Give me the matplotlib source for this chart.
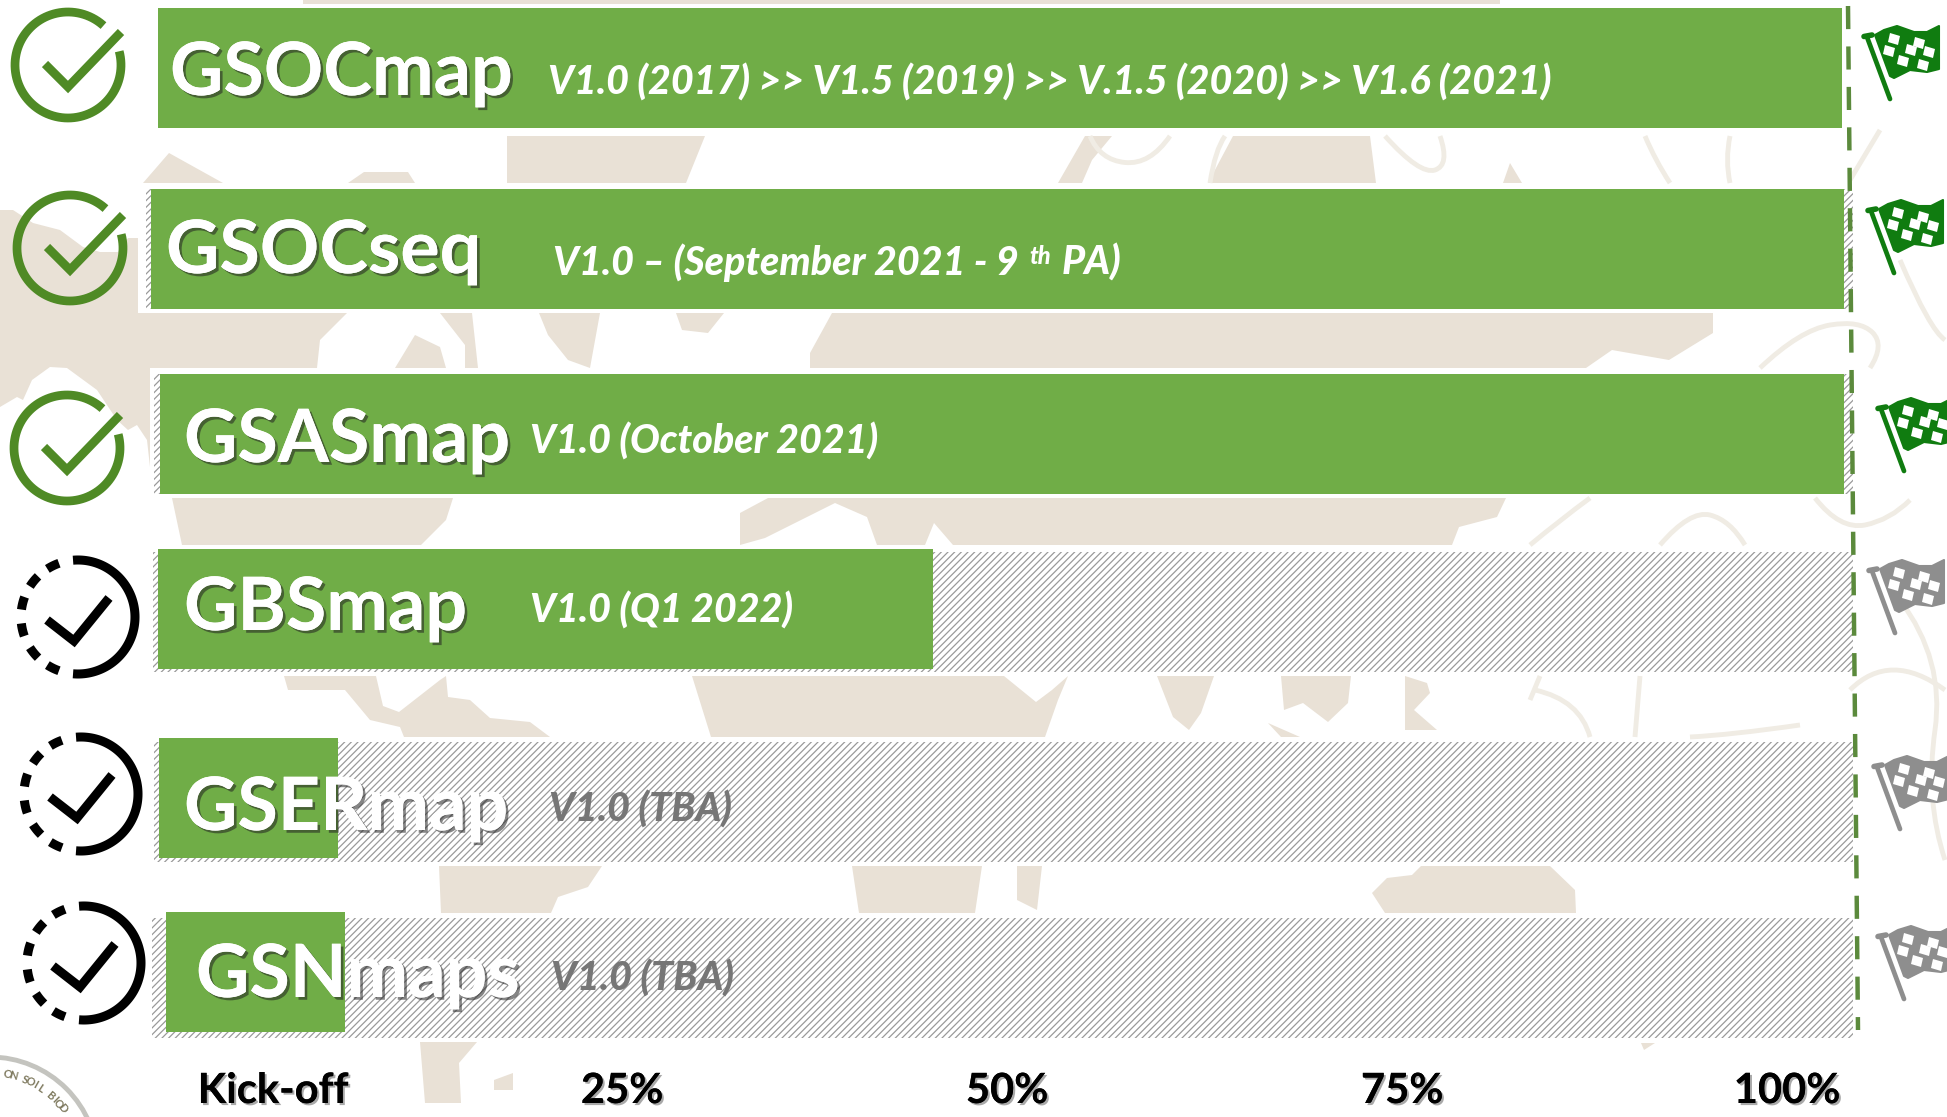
#!/usr/bin/env python3

import numpy as np
import matplotlib
matplotlib.use('Agg')
import matplotlib.pyplot as plt
import matplotlib.patheffects as pe
from matplotlib.patches import Polygon, Rectangle, Circle, PathPatch
from matplotlib.path import Path

# chart values
names = ['GSOCmap', 'GSOCseq', 'GSASmap', 'GBSmap', 'GSERmap', 'GSNmaps']
versions = ['V1.0 (2017) >> V1.5 (2019) >> V.1.5 (2020) >> V1.6 (2021)',
            'V1.0 – (September 2021 - 9',
            'V1.0 (October 2021)',
            'V1.0 (Q1 2022)',
            'V1.0 (TBA)',
            'V1.0 (TBA)']
progress = [100, 100, 100, 46, 10.6, 10.6]
tick_labels = ['Kick-off', '25%', '50%', '75%', '100%']

# layout, in pixels of the 1947x1117 picture
W, H = 1947, 1117
bar_left = [158, 151, 160, 158, 159, 166]
bar_span = [1684, 1693, 1684, 1684, 1684, 1684]
bar_top = [8, 189, 374, 549, 738, 912]
track_left = [None, 146, 154, 153, 154, 152]
track_top = [None, 189, 374, 552, 742, 918]
name_x = [170, 166, 184, 184, 184, 196]
name_y = [95, 273, 462, 630, 830, 997]
ver_x = [548, 553, 530, 530, 549, 551]
ver_y = [95, 275, 454, 623, 822, 991]
tick_x = [273, 622, 1007, 1402, 1787]
icon_xy = [(68, 65), (70, 248), (67, 448), (78, 617), (81, 794), (84, 963)]
flag_xy = [(1867, 37), (1871, 211), (1881, 409), (1872, 571), (1877, 767), (1881, 937)]

GREEN = '#70ad47'
BEIGE = '#e9e1d6'
LINE = '#f0ece4'

# world map pieces showing between the bars
blobs = [
    [(303, 0), (1500, 0), (1500, 4), (303, 4)],
    [(143, 183), (169, 153), (223, 183)],
    [(348, 183), (364, 172), (408, 172), (415, 183)],
    [(507, 136), (705, 136), (686, 183), (507, 183)],
    [(1058, 183), (1085, 136), (1112, 136), (1092, 160), (1082, 183)],
    [(1208, 183), (1233, 136), (1370, 136), (1376, 183)],
    [(1503, 183), (1510, 163), (1522, 183)],
    [(0, 210), (13, 210), (33, 223), (60, 230), (83, 247), (100, 252), (118, 252), (128, 238), (138, 238),
     (138, 313), (347, 313), (320, 340), (317, 368), (150, 368), (150, 467), (147, 440), (137, 425),
     (128, 430), (117, 420), (97, 390), (67, 368), (50, 367), (32, 380), (23, 400), (17, 397), (0, 407)],
    [(395, 368), (415, 335), (440, 347), (446, 368)],
    [(440, 313), (472, 313), (478, 368), (465, 368), (465, 345)],
    [(539, 313), (600, 313), (590, 368), (568, 360), (548, 335)],
    [(676, 313), (724, 313), (708, 333), (682, 330)],
    [(832, 313), (1713, 313), (1713, 333), (1669, 360), (1612, 350), (1586, 368), (810, 368), (810, 353)],
    [(172, 498), (453, 498), (446, 520), (421, 545), (182, 545)],
    [(768, 498), (740, 513), (740, 545), (765, 538), (835, 503), (867, 517), (877, 545), (925, 545),
     (934, 523), (953, 545), (1452, 545), (1459, 527), (1497, 517), (1506, 498)],
    [(284, 676), (376, 676), (383, 706), (399, 712), (440, 680), (446, 676), (448, 697), (470, 700),
     (490, 718), (530, 722), (550, 737), (404, 737), (400, 727), (370, 720), (345, 690), (288, 690)],
    [(692, 676), (1004, 676), (1036, 702), (1052, 690), (1068, 676), (1058, 700), (1045, 737), (711, 737)],
    [(1157, 676), (1214, 676), (1201, 713), (1189, 730), (1173, 717)],
    [(1281, 676), (1351, 676), (1348, 703), (1328, 722), (1303, 703), (1284, 710)],
    [(1268, 723), (1300, 737), (1281, 737)],
    [(1405, 676), (1427, 683), (1430, 693), (1414, 710), (1437, 730), (1405, 730)],
    [(439, 866), (602, 866), (588, 887), (558, 897), (551, 913), (441, 913)],
    [(852, 866), (982, 866), (975, 913), (859, 913)],
    [(1017, 866), (1042, 866), (1037, 910), (1017, 900)],
    [(1421, 866), (1550, 866), (1575, 890), (1576, 913), (1385, 913), (1372, 893), (1387, 878), (1412, 875)],
    [(420, 1042), (477, 1042), (459, 1063), (461, 1103), (425, 1103)],
    [(494, 1080), (513, 1073), (513, 1090), (494, 1090)],
    [(1641, 1043), (1655, 1043), (1644, 1050)],
]

# faint outlines of the drawing behind the map
swirls = [
    [(1090, 136), (1100, 160), (1150, 165), (1170, 136)],
    [(1210, 183), (1215, 150), (1225, 136)],
    [(1385, 136), (1420, 175), (1450, 165), (1440, 136)],
    [(1645, 136), (1655, 160), (1670, 183)],
    [(1730, 136), (1725, 160), (1730, 183)],
    [(1760, 368), (1800, 330), (1860, 320), (1885, 345), (1870, 368)],
    [(1530, 545), (1560, 520), (1590, 498)],
    [(1660, 545), (1690, 510), (1730, 520), (1745, 545)],
    [(1815, 498), (1840, 530), (1890, 520), (1910, 500)],
    [(1540, 676), (1530, 700)],
    [(1535, 690), (1580, 700), (1590, 737)],
    [(1640, 676), (1635, 737)],
    [(1690, 737), (1730, 735), (1800, 725)],
    [(1850, 690), (1890, 650), (1945, 690)],
    [(1900, 600), (1945, 660), (1925, 800), (1945, 860)],
    [(1880, 130), (1850, 180)],
    [(1900, 260), (1930, 330), (1945, 340)],
]

FLAG = [(8, -2), (17, -7), (30, -11), (47, -5), (60, -5), (72, -11), (72, 32), (60, 35), (43, 33), (27, 41), (23, 39)]
FLAG_CELLS = [(23, -4), (48, 0), (18, 8), (40, 7), (32, 18), (52, 22), (58, 9)]

fig = plt.figure(figsize=(W / 100, H / 100), dpi=100)
ax = fig.add_axes([0, 0, 1, 1])
ax.set_xlim(0, W)
ax.set_ylim(H, 0)
ax.axis('off')
plt.rcParams['hatch.linewidth'] = 0.9
plt.rcParams['font.family'] = ['Lato', 'DejaVu Sans']

for b in blobs:
    ax.add_patch(Polygon(b, closed=True, facecolor=BEIGE, edgecolor='none', zorder=1))
for s in swirls:
    if len(s) == 2:
        codes = [Path.MOVETO, Path.LINETO]
        verts = s
    else:
        # smooth through the midpoints
        verts = [s[0]]
        codes = [Path.MOVETO]
        for j in range(1, len(s) - 1):
            end = s[j + 1] if j == len(s) - 2 else ((s[j][0] + s[j + 1][0]) / 2, (s[j][1] + s[j + 1][1]) / 2)
            verts += [s[j], end]
            codes += [Path.CURVE3, Path.CURVE3]
    ax.add_patch(PathPatch(Path(verts, codes), facecolor='none', edgecolor=LINE, lw=3.5, zorder=1.5))

# grey hatched track, then the green progress on top
for i in range(len(names)):
    if track_left[i] is not None:
        ax.add_patch(Rectangle((track_left[i], track_top[i]), 1853 - track_left[i], 120, facecolor='white',
                               edgecolor='#9a9a9a', hatch='/' * 5, lw=0, zorder=2))
    ax.barh(bar_top[i] + 60, progress[i] / 100 * bar_span[i], height=120, left=bar_left[i],
            color=GREEN, zorder=3)

shadow = [pe.withSimplePatchShadow(offset=(2, -2), shadow_rgbFace='#222222', alpha=0.55), pe.Normal()]
for i in range(len(names)):
    ax.text(name_x[i], name_y[i], names[i], color='white', fontsize=53, fontweight='bold',
            va='baseline', ha='left', zorder=5, path_effects=shadow)
    col = 'white' if i < 4 else '#767676'
    ax.text(ver_x[i], ver_y[i], versions[i], color=col, fontsize=28.4, fontweight='black', fontstyle='italic',
            va='baseline', ha='left', zorder=5)

# the 9th superscript
ax.text(1029, 264, 'th', color='white', fontsize=17, fontweight='black', fontstyle='italic', va='baseline', zorder=5)
ax.text(1062, 275, 'PA)', color='white', fontsize=28.4, fontweight='black', fontstyle='italic', va='baseline', zorder=5)

for x, lab in zip(tick_x, tick_labels):
    ax.text(x, 1103, lab, color='black', fontsize=30, fontweight='bold', ha='center', va='baseline', zorder=5,
            path_effects=[pe.withSimplePatchShadow(offset=(1.5, -1.5), shadow_rgbFace='#555555', alpha=0.5), pe.Normal()])

# finish line
ax.plot([1848, 1858], [6, 1030], color='#5b8a3c', lw=3.2, dashes=(5.2, 3.9), zorder=4, dash_capstyle='butt')


def draw_icon(cx, cy, done):
    if done:
        col, lw, r = '#4f8a25', 6.3, 53
        t = np.radians(np.linspace(-15, 312, 200))
        ax.plot(cx + r * np.cos(t), cy + r * np.sin(t), color=col, lw=lw, zorder=4, solid_capstyle='butt')
        ax.plot([cx - 23, cx, cx + 53], [cy - 1, cy + 22, cy - 33], color=col, lw=lw, zorder=4,
                solid_joinstyle='miter', solid_capstyle='butt')
    else:
        col, lw, r = 'black', 6.5, 57
        t = np.radians(np.linspace(-95, 95, 120))
        ax.plot(cx + r * np.cos(t), cy + r * np.sin(t), color=col, lw=lw, zorder=4, solid_capstyle='butt')
        for a in [116, 141, 167, 194, 219, 244]:
            t = np.radians(np.linspace(a - 6.5, a + 6.5, 10))
            ax.plot(cx + r * np.cos(t), cy + r * np.sin(t), color=col, lw=lw, zorder=4, solid_capstyle='butt')
        ax.plot([cx - 31, cx - 4, cx + 31], [cy + 3, cy + 24, cy - 19], color=col, lw=lw, zorder=4,
                solid_joinstyle='miter', solid_capstyle='butt')


def draw_flag(x0, y0, col):
    ax.plot([x0, x0 + 23], [y0, y0 + 62], color=col, lw=3.4, zorder=4, solid_capstyle='round')
    ax.plot([x0 - 3, x0 + 5], [y0 - 0.5, y0 - 2], color=col, lw=4, zorder=4, solid_capstyle='round')
    pts = np.array(FLAG, dtype=float) + [x0, y0]
    ax.add_patch(Polygon(pts, closed=True, facecolor=col, edgecolor=col, lw=1.5, joinstyle='round', zorder=4))
    for cx, cy in FLAG_CELLS:
        sq = np.array([(0, 0), (10, 3), (8, 12), (-2, 9)], dtype=float) + [cx + x0, cy + y0]
        ax.add_patch(Polygon(sq, closed=True, facecolor='white', edgecolor='none', zorder=4.5))


for i, (cx, cy) in enumerate(icon_xy):
    draw_icon(cx, cy, i < 3)
for i, (x0, y0) in enumerate(flag_xy):
    draw_flag(x0, y0, '#107c10' if i < 3 else '#8e8e8e')

# seal in the corner
ax.add_patch(Circle((-10, 1165), 108, facecolor='white', edgecolor='#c4c4bf', lw=3.5, zorder=2))
for a, ch in zip(np.linspace(-79, -38, 12), 'ON SOIL BIOD'):
    rad = np.radians(a)
    ax.text(-10 + 92 * np.cos(rad), 1165 + 92 * np.sin(rad), ch, fontsize=8, fontweight='bold', color='#7f7a5f',
            rotation=-(a + 90), ha='center', va='center', zorder=3)

fig.savefig('out.png', dpi=100)
